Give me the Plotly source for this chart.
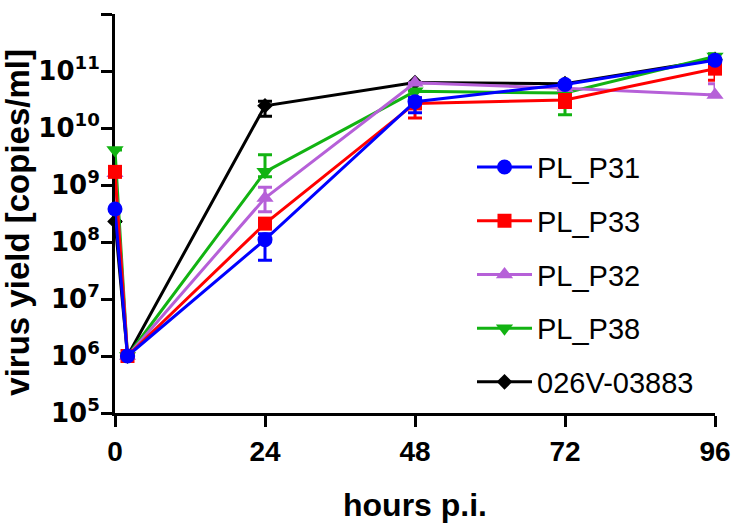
import plotly.graph_objects as go

hours = [0, 2, 24, 48, 72, 96]

series_names = ["PL_P31", "PL_P33", "PL_P32", "PL_P38", "026V-03883"]

p31 = [3.8e8, 1.0e6, 1.1e8, 2.9e10, 5.8e10, 1.55e11]
p31_plus = [0, 0, 3.0e7, 5.0e9, 5.0e9, 2.0e10]
p31_minus = [0, 0, 6.2e7, 1.05e10, 5.0e9, 2.0e10]

p33 = [1.7e9, 1.0e6, 2.1e8, 2.7e10, 3.1e10, 1.1e11]
p33_plus = [0, 0, 0, 3.0e9, 3.0e9, 3.0e10]
p33_minus = [0, 0, 0, 1.2e10, 8.0e9, 4.1e10]

p32 = [1.6e9, 1.0e6, 5.9e8, 6.2e10, 5.0e10, 3.8e10]
p32_plus = [0, 0, 3.2e8, 0, 0, 2.2e10]
p32_minus = [0, 0, 2.5e8, 0, 0, 0]

p38 = [4.1e9, 1.0e6, 1.7e9, 4.4e10, 4.1e10, 1.8e11]
p38_plus = [0, 0, 1.7e9, 0, 0, 2.0e10]
p38_minus = [0, 0, 3.0e8, 0, 2.4e10, 0]

v026 = [2.3e8, 1.0e6, 2.45e10, 6.3e10, 6.0e10, 1.6e11]
v026_plus = [0, 0, 5.0e9, 0, 0, 0]
v026_minus = [0, 0, 8.5e9, 0, 0, 0]

ytick_vals = [1e5, 1e6, 1e7, 1e8, 1e9, 1e10, 1e11, 1e12]
ytick_text = ["10<sup>5</sup>", "10<sup>6</sup>", "10<sup>7</sup>", "10<sup>8</sup>",
              "10<sup>9</sup>", "10<sup>10</sup>", "10<sup>11</sup>", "10<sup>12</sup>"]
xtick_vals = [0, 24, 48, 72, 96]

styles = {
    "PL_P31": dict(color="#0000FF", symbol="circle", size=15),
    "PL_P33": dict(color="#FF0000", symbol="square", size=14),
    "PL_P32": dict(color="#B660D8", symbol="triangle-up", size=15),
    "PL_P38": dict(color="#12B312", symbol="triangle-down", size=15),
    "026V-03883": dict(color="#000000", symbol="diamond", size=12),
}
data = {
    "PL_P31": (p31, p31_plus, p31_minus),
    "PL_P33": (p33, p33_plus, p33_minus),
    "PL_P32": (p32, p32_plus, p32_minus),
    "PL_P38": (p38, p38_plus, p38_minus),
    "026V-03883": (v026, v026_plus, v026_minus),
}

fig = go.Figure()
for name in reversed(series_names):
    st = styles[name]
    y, ep, em = data[name]
    fig.add_trace(go.Scatter(
        x=hours, y=y, name=name, mode="lines+markers",
        legendgroup=name, legendrank=series_names.index(name) + 1,
        line=dict(color=st["color"], width=3),
        marker=dict(color=st["color"], symbol=st["symbol"], size=st["size"],
                    line=dict(width=0)),
        error_y=dict(type="data", symmetric=False, array=ep, arrayminus=em,
                     color=st["color"], thickness=3, width=7),
        cliponaxis=False,
    ))

fig.update_layout(
    width=731, height=523,
    margin=dict(l=115, r=16, t=14, b=110),
    paper_bgcolor="white", plot_bgcolor="white",
    font=dict(family="Liberation Sans, Arial, sans-serif", color="black"),
    showlegend=True,
    legend=dict(
        x=0.595, y=0.680, xanchor="left", yanchor="top",
        traceorder="grouped", tracegroupgap=13,
        font=dict(family="Liberation Sans, Arial, sans-serif", size=29, color="black"),
        bgcolor="rgba(0,0,0,0)", itemwidth=55,
    ),
    xaxis=dict(
        range=[0, 96], tickvals=xtick_vals, ticks="outside", ticklen=11, tickwidth=3,
        tickcolor="black", showline=True, linecolor="black", linewidth=3,
        showgrid=False, zeroline=False, layer="below traces", automargin=False,
        tickfont=dict(family="Liberation Sans, Arial, sans-serif", size=28, weight="bold"),
        ticklabelstandoff=0,
        title=dict(text="hours p.i.", font=dict(size=32, weight="bold"), standoff=31),
    ),
    yaxis=dict(
        type="log", range=[5, 12], tickvals=ytick_vals, ticktext=ytick_text,
        ticks="outside", ticklen=11, tickwidth=3, tickcolor="black",
        showline=True, linecolor="black", linewidth=3,
        showgrid=False, zeroline=False, layer="below traces", automargin=False,
        tickfont=dict(family="DejaVu Sans, sans-serif", size=26, weight="bold"),
        ticklabelstandoff=-4,
    ),
    annotations=[dict(
        text="virus yield [copies/ml]", textangle=-90, showarrow=False,
        xref="paper", yref="paper", x=-0.162, y=0.479,
        xanchor="center", yanchor="middle",
        font=dict(family="Liberation Sans, Arial, sans-serif", size=33, weight="bold", color="black"),
    )],
)

fig.write_html("out.html", config={"displayModeBar": False},
               post_script="document.body.style.margin='0';")
